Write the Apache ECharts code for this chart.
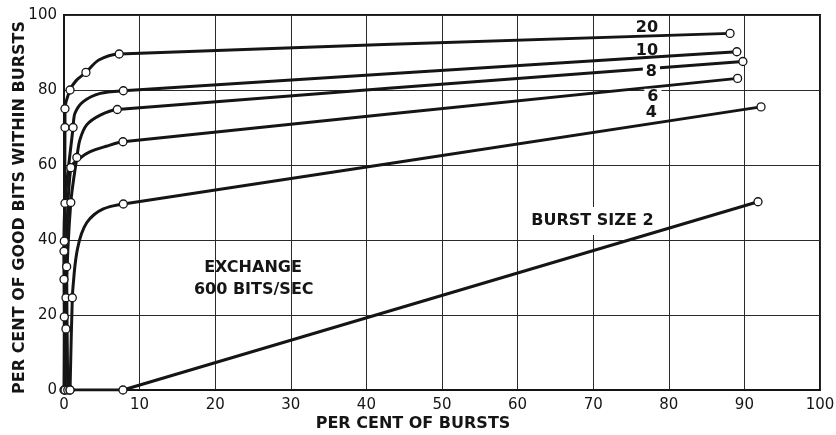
<!DOCTYPE html>
<html>
<head>
<meta charset="utf-8">
<script src="https://cdn.jsdelivr.net/npm/echarts@6/dist/echarts.min.js"></script>
<style>
  html, body { margin: 0; padding: 0; background: #fff; }
  #chart { width: 836px; height: 435px; }
</style>
</head>
<body>
<div id="chart"></div>
<script>
// Axis ticks
const xTicks = [0, 10, 20, 30, 40, 50, 60, 70, 80, 90, 100];
const yTicks = [0, 20, 40, 60, 80, 100];

// Measured points for each burst size: [per cent of bursts, per cent of good bits within bursts]
const dots20 = [[0, 0], [0.04, 19.5], [0, 29.5], [0.04, 39.7], [0.13, 70], [0.13, 75], [0.8, 80], [2.9, 84.7], [7.3, 89.6], [88.1, 95.1]];
const dots10 = [[0.13, 0], [0.26, 16.3], [0, 37], [0.13, 49.8], [1.2, 70], [7.85, 79.8], [89, 90.2]];
const dots8  = [[0.13, 0], [0.26, 24.6], [0.9, 50], [1.7, 62], [7.05, 74.8], [89.8, 87.6]];
const dots6  = [[0.5, 0], [0.35, 32.9], [0.9, 59.3], [7.8, 66.2], [89.1, 83.1]];
const dots4  = [[0.8, 0], [1.1, 24.6], [7.85, 49.6], [92.2, 75.5]];
const dots2  = [[0.8, 0], [7.8, 0], [91.8, 50.2]];

// Points traced along the faired curves between the measured points (no symbol)
const bend20 = [[1.6, 82.5], [4.6, 88]];
const bend10 = [[1.45, 73.8], [2.55, 76.9], [4.8, 79.1]];
const bend8  = [[2.1, 66.7], [3, 70.7], [4.8, 73.3]];
const bend6  = [[2.1, 61.8], [3.4, 63.5], [5.6, 65]];
const bend4  = [[1.3, 30], [1.5, 34], [1.8, 37.8], [2.3, 41.6], [3.0, 44.6], [4.0, 46.8], [5.2, 48.3], [6.5, 49.1]];
const bend2  = [];

const burstSizes = ['20', '10', '8', '6', '4', '2'];
const curves = {
  '20': [dots20, bend20], '10': [dots10, bend10], '8': [dots8, bend8],
  '6': [dots6, bend6], '4': [dots4, bend4], '2': [dots2, bend2]
};

const FONT = 'DejaVu Sans';
const INK = '#151515';

function curveData(dots, bend) {
  const items = dots.map(p => ({ value: p, symbol: 'circle' }))
    .concat(bend.map(p => ({ value: p, symbol: 'none' })));
  items.sort((a, b) => (a.value[1] - b.value[1]) || (a.value[0] - b.value[0]));
  return items;
}

const series = burstSizes.map(name => ({
  name: 'Burst size ' + name,
  type: 'line',
  data: curveData(curves[name][0], curves[name][1]),
  smooth: name === '2' ? false : 0.3,
  showAllSymbol: true,
  symbolSize: 8,
  z: 3,
  lineStyle: { color: INK, width: 3 },
  itemStyle: { color: '#fff', borderColor: INK, borderWidth: 1.3 },
  emphasis: { disabled: true },
  animation: false
}));

const chart = echarts.init(document.getElementById('chart'), null, { renderer: 'canvas' });

chart.setOption({
  animation: false,
  backgroundColor: '#fff',
  grid: {
    left: 64, top: 15, width: 756, height: 375,
    containLabel: false, outerBoundsMode: 'none',
    show: true, borderColor: INK, borderWidth: 2, backgroundColor: 'transparent'
  },
  xAxis: {
    type: 'value', min: xTicks[0], max: xTicks[xTicks.length - 1], interval: xTicks[1] - xTicks[0],
    name: 'PER CENT OF BURSTS', nameLocation: 'middle', nameGap: 26, nameMoveOverlap: false,
    nameTextStyle: { fontFamily: FONT, fontSize: 16, fontWeight: 'bold', color: INK, padding: [0, 58, 0, 0] },
    axisLine: { show: true, lineStyle: { color: INK, width: 2 } },
    axisTick: { show: false },
    axisLabel: { fontFamily: FONT, fontSize: 15, color: INK, margin: 8 },
    splitLine: { show: true, lineStyle: { color: '#2a2a2a', width: 1 } }
  },
  yAxis: {
    type: 'value', min: yTicks[0], max: yTicks[yTicks.length - 1], interval: yTicks[1] - yTicks[0],
    name: 'PER CENT OF GOOD BITS WITHIN BURSTS', nameLocation: 'middle', nameGap: 36, nameRotate: 90, nameMoveOverlap: false,
    nameTextStyle: { fontFamily: FONT, fontSize: 16, fontWeight: 'bold', color: INK, padding: [0, 10, 0, 0] },
    axisLine: { show: true, lineStyle: { color: INK, width: 2 } },
    axisTick: { show: false },
    axisLabel: { fontFamily: FONT, fontSize: 15, color: INK, margin: 7 },
    splitLine: { show: true, lineStyle: { color: '#2a2a2a', width: 1 } }
  },
  series: series
});

// Text placed in data coordinates
function textAt(x, y, text, opts) {
  const p = chart.convertToPixel({ gridIndex: 0 }, [x, y]);
  return {
    type: 'text', x: p[0], y: p[1], z: 5,
    style: Object.assign({
      text: text, fill: INK, font: 'bold 16px "' + FONT + '"',
      align: 'center', verticalAlign: 'middle'
    }, opts || {})
  };
}

chart.setOption({
  graphic: [
    textAt(77.1, 96.7, '20'),
    textAt(77.1, 90.5, '10'),
    textAt(77.7, 84.9, '8', { backgroundColor: '#fff', padding: [0, 3] }),
    textAt(77.9, 78.2, '6', { backgroundColor: '#fff', padding: [0, 3] }),
    textAt(77.7, 73.8, '4'),
    Object.assign(textAt(69.9, 45.1, 'BURST SIZE 2', { backgroundColor: '#fff', padding: [6, 4] }), { z: 1 }),
    textAt(25, 32.5, 'EXCHANGE'),
    textAt(25.1, 26.7, '600 BITS/SEC')
  ]
});
</script>
</body>
</html>
